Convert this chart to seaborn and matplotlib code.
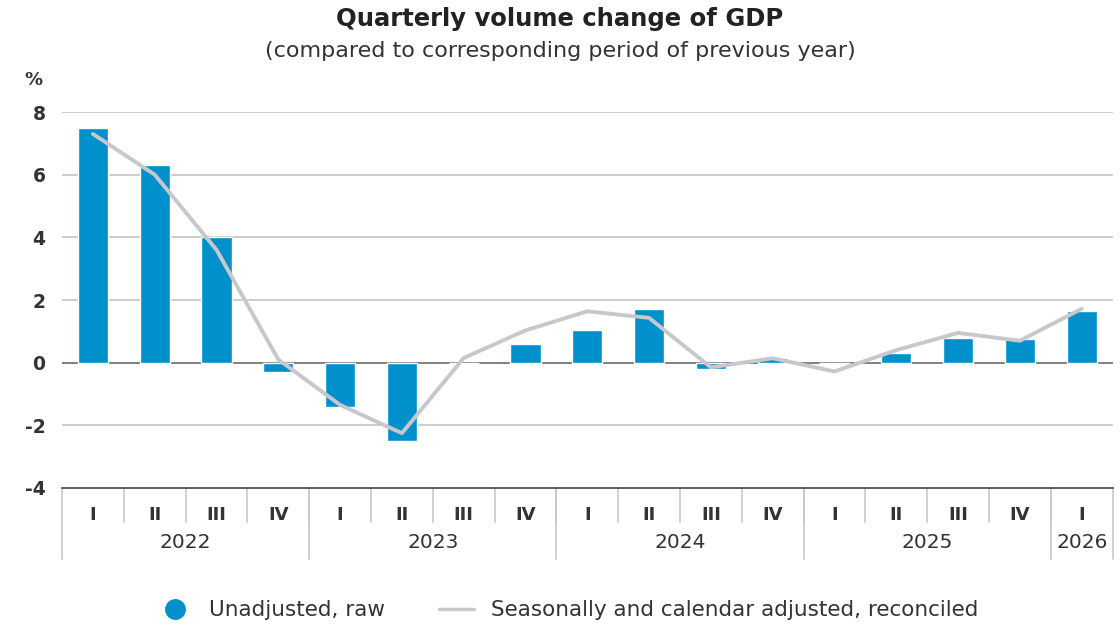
import matplotlib
matplotlib.use("Agg")
import matplotlib.pyplot as plt
import matplotlib.transforms as mtransforms
from matplotlib.lines import Line2D
import numpy as np
import pandas as pd
import seaborn as sns

YEARS = ["2022", "2023", "2024", "2025", "2026"]
QUARTERS = ["I", "II", "III", "IV", "I", "II", "III", "IV", "I", "II", "III", "IV",
            "I", "II", "III", "IV", "I"]
YEAR_OF_PERIOD = ["2022"] * 4 + ["2023"] * 4 + ["2024"] * 4 + ["2025"] * 4 + ["2026"]
RAW = [7.5, 6.3, 4.0, -0.3, -1.4, -2.5, 0.0, 0.6, 1.05, 1.7, -0.2, 0.15,
       0.0, 0.3, 0.8, 0.75, 1.65]
ADJUSTED = [7.3, 6.0, 3.6, 0.1, -1.35, -2.25, 0.15, 1.03, 1.64, 1.43, -0.15, 0.14,
            -0.28, 0.4, 0.95, 0.7, 1.72]

BLUE = "#0090cc"
GREY_LINE = "#c8c8cc"
TEXT = "#333333"


def main():
    sns.set_theme(style="white")
    plt.rcParams['font.family'] = ['DejaVu Sans']

    df = pd.DataFrame({
        'period': [f"{y} {q}" for y, q in zip(YEAR_OF_PERIOD, QUARTERS)],
        'raw': RAW,
        'adjusted': ADJUSTED,
    })
    df['pos'] = np.arange(len(df))

    fig = plt.figure(figsize=(11.2, 6.3), dpi=100)
    ax = fig.add_axes([0.0554, 0.2254, 0.938, 0.5968])

    sns.barplot(data=df, x='period', y='raw', color=BLUE, width=0.49,
                saturation=1, ax=ax, zorder=2)
    sns.lineplot(data=df, x='pos', y='adjusted', color=GREY_LINE, linewidth=2.8,
                 ax=ax, zorder=3)

    ax.set_xlim(-0.5, len(df) - 0.5)
    ax.set_ylim(-4, 8)
    ax.set_yticks([-4, -2, 0, 2, 4, 6, 8])
    ax.set_yticklabels(["-4", "-2", "0", "2", "4", "6", "8"],
                       fontsize=13.5, fontweight='bold', color=TEXT)
    ax.tick_params(axis='y', length=0, pad=12)
    ax.set_xticks([])
    ax.set_xlabel("")
    ax.set_ylabel("")
    for s in ['left', 'right', 'top']:
        ax.spines[s].set_visible(False)
    ax.spines['bottom'].set_color('#444444')
    ax.spines['bottom'].set_linewidth(1.2)

    for y in [-2, 2, 4, 6, 8]:
        ax.axhline(y, color='#c4c4c4', linewidth=1.2, zorder=0)
    ax.axhline(0, color='#808080', linewidth=1.4, zorder=1)

    trans = mtransforms.blended_transform_factory(ax.transData, ax.transAxes)
    # quarter labels and separators
    for i, q in enumerate(QUARTERS):
        ax.text(i, -0.072, q, transform=trans, ha='center', va='center',
                fontsize=13, fontweight='bold', color=TEXT)
    for i in range(len(QUARTERS) - 1):
        ax.add_line(Line2D([i + 0.5, i + 0.5], [0, -0.09], transform=trans,
                           color='#c8c8c8', linewidth=1.2, clip_on=False))
    # year labels and separators
    start = 0
    bounds = [-0.5]
    for yr in YEARS:
        n = YEAR_OF_PERIOD.count(yr)
        ax.text(start + (n - 1) / 2, -0.146, yr, transform=trans, ha='center',
                va='center', fontsize=14.5, color=TEXT)
        start += n
        bounds.append(start - 0.5)
    for b in bounds:
        ax.add_line(Line2D([b, b], [0, -0.19], transform=trans,
                           color='#c8c8c8', linewidth=1.2, clip_on=False))

    fig.text(0.5, 0.97, "Quarterly volume change of GDP", ha='center', va='center',
             fontsize=17.5, fontweight='bold', color='#222222')
    fig.text(0.5, 0.919, "(compared to corresponding period of previous year)",
             ha='center', va='center', fontsize=16, color=TEXT)
    fig.text(0.022, 0.873, "%", ha='left', va='center', fontsize=13,
             fontweight='bold', color=TEXT)

    handles = [
        Line2D([], [], marker='o', linestyle='none', markersize=14,
               markerfacecolor=BLUE, markeredgecolor=BLUE),
        Line2D([], [], color=GREY_LINE, linewidth=2.5),
    ]
    fig.legend(handles, ["Unadjusted, raw",
                         "Seasonally and calendar adjusted, reconciled"],
               loc='center', bbox_to_anchor=(0.507, 0.031), ncol=2, frameon=False,
               fontsize=15.5, handlelength=1.6, columnspacing=2.5,
               labelcolor=TEXT)

    fig.savefig('out.png', dpi=100)
    plt.close(fig)


if __name__ == '__main__':
    main()
